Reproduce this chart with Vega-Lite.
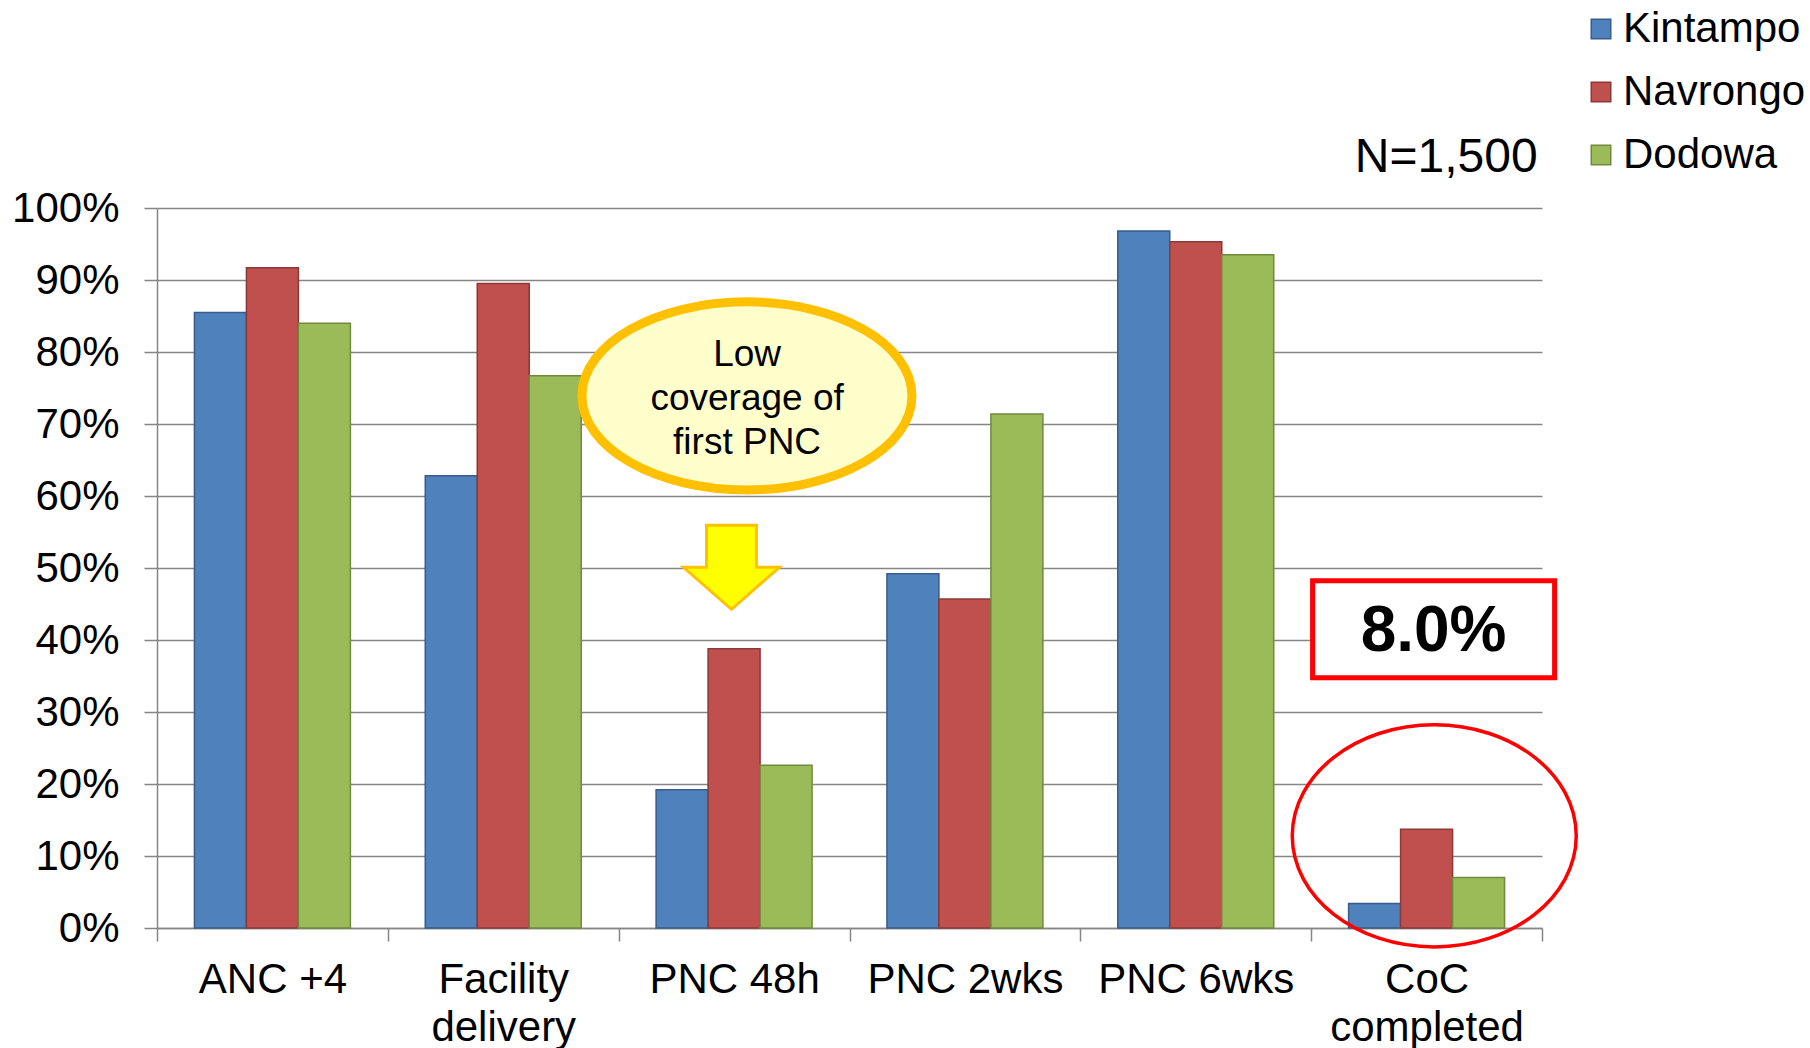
{
  "$schema": "https://vega.github.io/schema/vega-lite/v6.json",
  "width": 1385,
  "height": 720,
  "autosize": {"type": "none"},
  "padding": {"left": 157, "top": 208, "right": 268, "bottom": 120},
  "background": "white",
  "config": {
    "font": "Liberation Sans",
    "view": {"stroke": null},
    "axis": {"labelColor": "black", "labelFont": "Liberation Sans"}
  },
  "datasets": {
    "bars": [
      {"category": "ANC +4", "site": "Kintampo", "value": 0.855},
      {"category": "ANC +4", "site": "Navrongo", "value": 0.917},
      {"category": "ANC +4", "site": "Dodowa", "value": 0.840},
      {"category": "Facility delivery", "site": "Kintampo", "value": 0.628},
      {"category": "Facility delivery", "site": "Navrongo", "value": 0.895},
      {"category": "Facility delivery", "site": "Dodowa", "value": 0.767},
      {"category": "PNC 48h", "site": "Kintampo", "value": 0.192},
      {"category": "PNC 48h", "site": "Navrongo", "value": 0.388},
      {"category": "PNC 48h", "site": "Dodowa", "value": 0.226},
      {"category": "PNC 2wks", "site": "Kintampo", "value": 0.492},
      {"category": "PNC 2wks", "site": "Navrongo", "value": 0.457},
      {"category": "PNC 2wks", "site": "Dodowa", "value": 0.714},
      {"category": "PNC 6wks", "site": "Kintampo", "value": 0.968},
      {"category": "PNC 6wks", "site": "Navrongo", "value": 0.953},
      {"category": "PNC 6wks", "site": "Dodowa", "value": 0.935},
      {"category": "CoC completed", "site": "Kintampo", "value": 0.034},
      {"category": "CoC completed", "site": "Navrongo", "value": 0.137},
      {"category": "CoC completed", "site": "Dodowa", "value": 0.070}
    ],
    "callout": [{"category": "PNC 48h", "value": 0.739, "label": "Low\ncoverage of\nfirst PNC"}],
    "arrow": [{"category": "PNC 48h", "value": 0.501}],
    "highlight": [{"category": "CoC completed", "value": 0.415, "label": "8.0%"}],
    "circle": [{"category": "CoC completed", "value": 0.128}],
    "note": [{"category": "CoC completed", "value": 1.072, "label": "N=1,500"}]
  },
  "layer": [
    {
      "data": {"name": "bars"},
      "mark": {"type": "bar", "strokeWidth": 1.5},
      "encoding": {
        "x": {
          "field": "category", "type": "nominal",
          "scale": {"domain": ["ANC +4", "Facility delivery", "PNC 48h", "PNC 2wks", "PNC 6wks", "CoC completed"], "paddingInner": 0, "paddingOuter": 0},
          "axis": {
            "title": null, "labelAngle": 0, "labelFontSize": 42, "labelLineHeight": 48,
            "labelPadding": 18, "labelBaseline": "top", "labelLimit": 500,
            "labelExpr": "datum.label == 'Facility delivery' ? ['Facility','delivery'] : datum.label == 'CoC completed' ? ['CoC','completed'] : datum.label",
            "domainColor": "#868686", "domainWidth": 1.5,
            "tickColor": "#868686", "tickWidth": 1.5, "tickSize": 13, "tickBand": "extent",
            "grid": false
          }
        },
        "xOffset": {
          "field": "site", "type": "nominal",
          "scale": {"domain": ["Kintampo", "Navrongo", "Dodowa"], "paddingInner": 0, "paddingOuter": 0.72}
        },
        "y": {
          "field": "value", "type": "quantitative",
          "scale": {"domain": [0, 1], "nice": false},
          "axis": {
            "title": null, "values": [0, 0.1, 0.2, 0.3, 0.4, 0.5, 0.6, 0.7, 0.8, 0.9, 1],
            "format": ".0%", "labelFontSize": 42, "labelPadding": 25,
            "domainColor": "#868686", "domainWidth": 1.5,
            "tickColor": "#868686", "tickWidth": 1.5, "tickSize": 13,
            "grid": true, "gridColor": "#868686", "gridWidth": 1.5
          }
        },
        "fill": {
          "field": "site", "type": "nominal",
          "scale": {"domain": ["Kintampo", "Navrongo", "Dodowa"], "range": ["#4F81BD", "#C0504D", "#9BBB59"]},
          "legend": {
            "title": null, "orient": "none", "legendX": 1423, "legendY": -200,
            "symbolType": "square", "symbolSize": 380, "symbolStrokeWidth": 1.5,
            "labelFontSize": 42, "labelOffset": 1, "rowPadding": 21, "padding": 0,
            "labelLimit": 400, "labelColor": "black", "labelFont": "Liberation Sans"
          }
        },
        "stroke": {
          "field": "site", "type": "nominal",
          "scale": {"domain": ["Kintampo", "Navrongo", "Dodowa"], "range": ["#385D8A", "#8C3836", "#71893F"]},
          "legend": null
        }
      }
    },
    {
      "data": {"name": "circle"},
      "mark": {"type": "point", "shape": "M -0.946 0 C -0.946 -0.432 -0.498 -0.782 0.054 -0.782 C 0.606 -0.782 1.054 -0.432 1.054 0 C 1.054 0.432 0.606 0.782 0.054 0.782 C -0.498 0.782 -0.946 0.432 -0.946 0 Z", "size": 80656, "filled": false, "stroke": "#FF0000", "strokeWidth": 3.5, "opacity": 1},
      "encoding": {
        "x": {"field": "category", "type": "nominal"},
        "y": {"field": "value", "type": "quantitative", "scale": {"domain": [0, 1], "nice": false}}
      }
    },
    {
      "data": {"name": "callout"},
      "mark": {"type": "point", "shape": "M -0.922 0 C -0.922 -0.315 -0.474 -0.57 0.078 -0.57 C 0.63 -0.57 1.078 -0.315 1.078 0 C 1.078 0.315 0.63 0.57 0.078 0.57 C -0.474 0.57 -0.922 0.315 -0.922 0 Z", "size": 108900, "filled": true, "fill": "#FFFFCC", "stroke": "#FFC000", "strokeWidth": 9, "opacity": 1},
      "encoding": {
        "x": {"field": "category", "type": "nominal"},
        "y": {"field": "value", "type": "quantitative", "scale": {"domain": [0, 1], "nice": false}}
      }
    },
    {
      "data": {"name": "callout"},
      "mark": {"type": "text", "fontSize": 37, "lineHeight": 44, "lineBreak": "\n", "align": "center", "baseline": "middle", "dx": 13, "dy": -41, "color": "black"},
      "encoding": {
        "x": {"field": "category", "type": "nominal"},
        "y": {"field": "value", "type": "quantitative", "scale": {"domain": [0, 1], "nice": false}},
        "text": {"field": "label"}
      }
    },
    {
      "data": {"name": "arrow"},
      "mark": {"type": "point", "shape": "M -0.574 -0.875 L 0.466 -0.875 L 0.466 0 L 0.946 0 L -0.054 0.875 L -1.054 0 L -0.574 0 Z", "size": 9216, "filled": true, "fill": "#FFFF00", "stroke": "#FFC000", "strokeWidth": 3, "opacity": 1},
      "encoding": {
        "x": {"field": "category", "type": "nominal"},
        "y": {"field": "value", "type": "quantitative", "scale": {"domain": [0, 1], "nice": false}}
      }
    },
    {
      "data": {"name": "highlight"},
      "mark": {"type": "point", "shape": "M -0.942 -0.401 L 1.058 -0.401 L 1.058 0.401 L -0.942 0.401 Z", "size": 58564, "filled": true, "fill": "white", "stroke": "#FF0000", "strokeWidth": 5, "opacity": 1},
      "encoding": {
        "x": {"field": "category", "type": "nominal"},
        "y": {"field": "value", "type": "quantitative", "scale": {"domain": [0, 1], "nice": false}}
      }
    },
    {
      "data": {"name": "highlight"},
      "mark": {"type": "text", "fontSize": 64, "fontWeight": "bold", "align": "center", "baseline": "middle", "dx": 7, "dy": 3, "color": "black"},
      "encoding": {
        "x": {"field": "category", "type": "nominal"},
        "y": {"field": "value", "type": "quantitative", "scale": {"domain": [0, 1], "nice": false}},
        "text": {"field": "label"}
      }
    },
    {
      "data": {"name": "note"},
      "mark": {"type": "text", "fontSize": 48, "align": "right", "baseline": "middle", "dx": 111, "dy": 2, "color": "black"},
      "encoding": {
        "x": {"field": "category", "type": "nominal"},
        "y": {"field": "value", "type": "quantitative", "scale": {"domain": [0, 1], "nice": false}},
        "text": {"field": "label"}
      }
    }
  ]
}
